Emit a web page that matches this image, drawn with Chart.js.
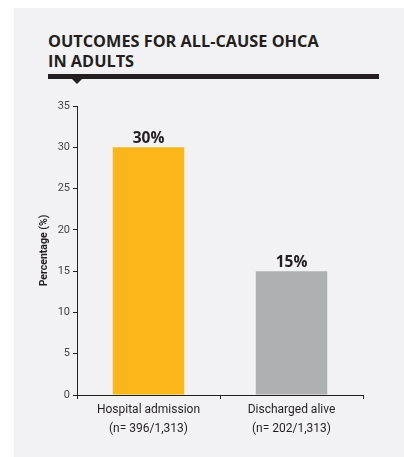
<!DOCTYPE html>
<html>
<head>
<meta charset="utf-8">
<script src="https://cdn.jsdelivr.net/npm/chart.js@4.4.1/dist/chart.umd.min.js"></script>
<style>
  body { margin: 0; background: #fff; width: 404px; height: 457px; overflow: hidden; position: relative; }
  #panel { position: absolute; left: 14px; top: 8px; right: 0; bottom: 0; background: #f2f2f4; }
  #title { position: absolute; left: 48px; top: 31px; font: 700 16.3px 'Open Sans', sans-serif; line-height: 20px; color: #231f20; }
  #rule { position: absolute; left: 48px; top: 74px; width: 331px; height: 5px; background: #231f20; }
  #rule:after { content: ''; position: absolute; left: 24px; top: 5px; border-left: 5px solid transparent; border-right: 5px solid transparent; border-top: 5px solid #231f20; }
  #wrap { position: absolute; left: 0; top: 0; width: 404px; height: 457px; }
</style>
</head>
<body>
<div id="panel"></div>
<div id="title">OUTCOMES FOR ALL-CAUSE OHCA<br>IN ADULTS</div>
<div id="rule"></div>
<div id="wrap"><canvas id="chart"></canvas></div>
<script>
const categories = [['Hospital admission', '(n= 396/1,313)'], ['Discharged alive', '(n= 202/1,313)']]
const percentages = [30, 15]
const barColors = ['#fbb619', '#aeafb1']
const yTicks = [0, 5, 10, 15, 20, 25, 30, 35]

const ink = '#231f20'
const narrow = "Roboto, sans-serif"

// draws the "30%" style labels over each bar
const valueLabels = {
  id: 'valueLabels',
  afterDatasetsDraw(chart) {
    const ctx = chart.ctx
    const meta = chart.getDatasetMeta(0)
    ctx.save()
    ctx.font = "700 15.5px 'Open Sans', sans-serif"
    ctx.fillStyle = ink
    ctx.textAlign = 'center'
    ctx.textBaseline = 'alphabetic'
    meta.data.forEach((bar, i) => {
      ctx.fillText(percentages[i] + '%', bar.x, bar.y - 4)
    })
    ctx.restore()
  }
}

new Chart(document.getElementById('chart'), {
  type: 'bar',
  data: {
    labels: categories,
    datasets: [{
      data: percentages,
      backgroundColor: barColors,
      barPercentage: 0.5,
      categoryPercentage: 1.0
    }]
  },
  options: {
    responsive: true,
    maintainAspectRatio: false,
    animation: false,
    layout: { padding: { left: 0, right: 41, top: 106, bottom: 0 } },
    plugins: { legend: { display: false }, tooltip: { enabled: false } },
    scales: {
      x: {
        grid: { display: true, drawOnChartArea: false, drawTicks: true, tickLength: 4, color: ink, offset: true },
        border: { color: ink, width: 1 },
        ticks: { color: ink, padding: 1, maxRotation: 0, font: { family: narrow, size: 12, lineHeight: 1.6 } },
        afterFit(scale) { scale.height = 62 }
      },
      y: {
        min: 0,
        max: 35,
        afterBuildTicks(scale) { scale.ticks = yTicks.map(v => ({ value: v })) },
        grid: { display: true, drawOnChartArea: false, drawTicks: true, tickLength: 4, color: ink },
        border: { color: ink, width: 1 },
        ticks: { color: '#444', padding: 3, font: { family: narrow, size: 11 } },
        title: {
          display: true,
          text: 'Percentage (%)',
          color: ink,
          font: { family: narrow, size: 10.5, weight: 'bold' },
          padding: { top: 38, bottom: 0 }
        },
        afterFit(scale) { scale.width = 77 }
      }
    }
  },
  plugins: [valueLabels]
})
</script>
</body>
</html>
